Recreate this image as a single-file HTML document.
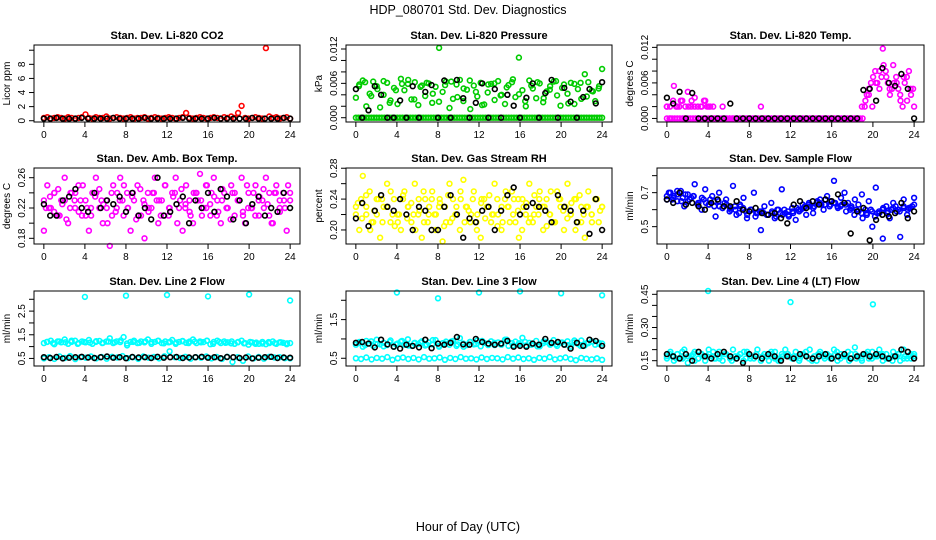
<!DOCTYPE html>
<html><head><meta charset="utf-8">
<style>
html,body{margin:0;padding:0;background:#fff;}
svg{display:block;font-family:"Liberation Sans",Arial,sans-serif;}
</style></head>
<body>
<svg id="chart" width="936" height="540" viewBox="0 0 936 540" xmlns="http://www.w3.org/2000/svg">
<rect width="936" height="540" fill="#fff"/>
<text x="468" y="14" font-size="12.5" text-anchor="middle">HDP_080701  Std. Dev. Diagnostics</text>
<text x="468" y="531" font-size="12.5" text-anchor="middle">Hour of Day (UTC)</text>
</svg>
<script>
// ---- data ----
const xTicks = [0,4,8,12,16,20,24];

// Panel 1: Li-820 CO2
const co2Color = [0.4,0.5,0.3,0.4,0.5,0.4,0.3,0.5,0.4,0.3, 0.4,0.5,0.9,0.4,0.3,0.5,0.4,0.4,0.6,0.3, 0.4,0.5,0.4,0.3,0.4,0.5,0.3,0.4,0.4,0.5, 0.3,0.4,0.5,0.4,0.3,0.4,0.5,0.4,0.3,0.4, 0.5,1.1,0.4,0.3,0.4,0.5,0.4,0.3,0.4,0.5, 0.4,0.3,0.5,0.4,0.6,0.4,1.1,2.1,0.4,0.3, 0.4,0.5,0.4,0.3,10.3,0.6,0.4,0.5,0.3,0.4, 0.5,0.3];
const co2Black = [0.3,0.3,0.4,0.3,0.3,0.3,0.4,0.3,0.3,0.3, 0.3,0.4,0.3,0.3,0.3,0.3,0.4,0.3,0.3,0.3, 0.3,0.3,0.4,0.3,0.3,0.3,0.3,0.4,0.3,0.3, 0.3,0.3,0.3,0.4,0.3,0.3,0.3,0.3,0.4,0.3];
const co2Ticks = [0,2,4,6,8,10];
const co2Labels = ["0","2","4","6","8",""];

// Panel 2: Li-820 Pressure (milli-kPa)
const presColor = [3.5,5.8,6.5,2.0,4.2,6.3,5.5,1.8,4.0,6.1,3.0,5.2,2.4,6.8,4.8,5.9,3.2,6.2,2.2,5.6, 3.8,6.0,2.6,5.4,12.2,4.5,6.3,1.7,3.3,5.8,6.6,2.9,4.9,1.5,5.6,3.7,6.1,2.3,4.4,5.9, 3.1,6.4,4.0,2.4,5.7,6.2,3.6,10.5,4.8,2.0,6.5,5.1,3.4,6.0,2.7,4.6,5.5,6.3,3.9,2.1, 5.8,4.2,6.1,2.4,5.0,3.3,7.6,6.2,4.7,2.9,5.1,8.5];
const presColorB = [5.5,6.2,3.8,5.0,6.4,2.6,4.8,5.9,6.6,3.2,5.4,6.1,4.2,2.8,5.7,6.3,3.6,5.1,6.5,4.5,2.2,5.8,6.0,3.9,5.3,6.7,4.1,2.9,5.6,6.2,3.4,4.9,6.4,5.2,2.5,5.9,6.1,3.7,4.6,5.5];
const presZero = [0,0,0,0,0,0,0,0,0,0,0,0,0,0,0,0,0,0,0,0,0,0,0,0,0,0,0,0,0,0,0,0,0,0,0,0,0,0,0,0,0,0,0,0,0,0,0,0,0,0,0,0,0,0,0,0,0,0,0,0,0,0,0,0,0,0,0,0,0,0,0,0,0,0,0,0,0,0,0,0,0,0,0,0,0,0,0,0,0,0,0,0,0,0,0,0];
const presBlack = [5.0,0,1.3,5.5,4.0,0,0,3.0,0,5.5,0,4.5,5.7,0,6.5,0,6.6,3.4,0,2.6,6.0,0,5.0,0,4.0,2.1,0,3.5,6.0,0,4.3,6.6,0,5.2,2.8,0,3.6,5.0,2.5,6.2];
const presTicks = [0,2,4,6,8,10,12];
const presLabels = ["0.000","","","0.006","","","0.012"];

// Panel 3: Li-820 Temp (milli-degC)
const tempColor = [2,0,5.5,2,3,0,4.5,2,3.5,0,2,3,2,0, 0,0,2,0,0,0,0,0,0,0, 0,0,0,2,0,0,0,0,0,0, 0,0,0,0,0,0,0,0,0,0, 0,0,0,0,0,0,0,0,0,0, 0,0,2, 3,4,2,6,8,11.8,7,5,9,6,4,7,3,5,2];
const tempEarly = [2,2,3,2,2,3,2,2,3,2,2,2,3,2,2,2];
const tempLate = [2,4,5,6,7,8,6,5,7,9,8,6,4,5,6,7,5,3,2,6,7,8,4,5];
const tempBlack = [3.5,2.5,4.5,0,4.3,0,0,0,0,0,2.5,0,0,0,0,0,0,0,0,0,0,0,0,0,0,0,0,0,0,0,0,4.8,5.0,3.0,8.5,6.0,5.5,7.5,5.0,0];
const tempTicks = [0,2,4,6,8,10,12];
const tempLabels = ["0.000","","","0.006","","","0.012"];

// Panel 4: Amb. Box Temp
const ambColor = [0.19,0.25,0.22,0.24,0.21,0.23,0.26,0.20,0.24,0.22,0.25,0.21,0.23,0.19,0.24,0.26,0.22,0.20,0.23,0.17, 0.25,0.22,0.26,0.21,0.24,0.19,0.23,0.25,0.21,0.18,0.24,0.22,0.26,0.20,0.23,0.25,0.21,0.24,0.26,0.22, 0.19,0.25,0.23,0.20,0.24,0.265,0.22,0.25,0.21,0.26,0.23,0.20,0.24,0.22,0.25,0.21,0.23,0.26,0.20,0.24, 0.22,0.25,0.21,0.23,0.26,0.24,0.20,0.25,0.22,0.24,0.19,0.23];
const ambColorB = [0.23,0.22,0.24,0.21,0.23,0.22,0.24,0.23,0.21,0.22,0.24,0.23,0.22,0.21,0.24,0.23,0.22,0.24,0.21,0.23,0.22,0.24,0.23,0.21,0.22,0.24,0.23,0.22,0.21,0.24,0.23,0.22,0.24,0.21,0.23,0.22,0.24,0.23,0.21,0.22,0.24,0.23,0.22,0.21,0.24,0.23,0.22,0.24];
const ambColorC = [0.22,0.235,0.215,0.245,0.225,0.205,0.24,0.23,0.215,0.25,0.22,0.21,0.235,0.245,0.225,0.2,0.24,0.215,0.23,0.25,0.22,0.235,0.205,0.245,0.225,0.215,0.24,0.23,0.21,0.25,0.22,0.235,0.2,0.245,0.225,0.215,0.24,0.23,0.21,0.25,0.225,0.235,0.215,0.245,0.22,0.205,0.24,0.23,0.215,0.25,0.22,0.21,0.235,0.245,0.225,0.2,0.24,0.215,0.23,0.25];
const ambBlack = [0.225,0.21,0.21,0.23,0.235,0.245,0.22,0.215,0.24,0.22,0.23,0.225,0.235,0.215,0.24,0.21,0.22,0.205,0.26,0.21,0.215,0.225,0.235,0.2,0.23,0.22,0.24,0.215,0.245,0.235,0.205,0.23,0.2,0.225,0.235,0.21,0.22,0.215,0.24,0.22];
const ambTicks = [0.18,0.20,0.22,0.24,0.26];
const ambLabels = ["0.18","","0.22","","0.26"];

// Panel 5: Gas Stream RH
const rhColor = [0.23,0.20,0.27,0.22,0.25,0.21,0.24,0.19,0.23,0.26,0.21,0.24,0.22,0.20,0.25,0.23,0.21,0.26,0.22,0.19, 0.24,0.22,0.25,0.20,0.23,0.185,0.21,0.26,0.24,0.22,0.20,0.265,0.23,0.21,0.25,0.22,0.19,0.24,0.23,0.21, 0.26,0.22,0.20,0.24,0.23,0.25,0.21,0.19,0.24,0.22,0.26,0.21,0.23,0.25,0.20,0.24,0.22,0.21,0.25,0.23, 0.20,0.26,0.22,0.24,0.21,0.23,0.19,0.25,0.22,0.24,0.21,0.23];
const rhColorB = [0.22,0.24,0.23,0.21,0.22,0.24,0.23,0.22,0.21,0.24,0.23,0.22,0.24,0.21,0.23,0.22,0.24,0.23,0.21,0.22,0.24,0.23,0.22,0.21,0.24,0.23,0.22,0.24,0.21,0.23,0.22,0.24,0.23,0.21,0.22,0.24,0.23,0.22,0.21,0.24,0.23,0.22,0.24,0.21,0.23,0.22,0.24,0.23];
const rhColorC = [0.235,0.215,0.245,0.2,0.225,0.24,0.21,0.23,0.25,0.205,0.22,0.245,0.215,0.235,0.2,0.225,0.25,0.21,0.24,0.22,0.235,0.205,0.245,0.215,0.23,0.25,0.21,0.225,0.24,0.2,0.235,0.215,0.245,0.22,0.205,0.23,0.25,0.21,0.24,0.225,0.2,0.235,0.215,0.245,0.22,0.23,0.205,0.25,0.21,0.24,0.225,0.215,0.235,0.2,0.245,0.22,0.23,0.21,0.24,0.225];
const rhBlack = [0.215,0.235,0.205,0.225,0.245,0.23,0.225,0.24,0.22,0.2,0.23,0.225,0.2,0.2,0.23,0.245,0.22,0.19,0.215,0.21,0.225,0.23,0.2,0.225,0.245,0.255,0.22,0.23,0.235,0.23,0.225,0.21,0.245,0.23,0.225,0.21,0.225,0.195,0.24,0.2];
const rhTicks = [0.20,0.22,0.24,0.26,0.28];
const rhLabels = ["0.20","","0.24","","0.28"];

// Panel 6: Sample Flow
const sfColor = [0.66,0.70,0.68,0.65,0.71,0.62,0.69,0.67,0.75,0.64,0.60,0.72, 0.63,0.68,0.56,0.70,0.61,0.66,0.59,0.74,0.57,0.63,0.67,0.55, 0.60,0.70,0.58,0.48,0.62,0.57,0.64,0.55,0.60,0.72,0.58,0.56,0.61,0.54,0.59,0.63,0.57,0.62, 0.58,0.64,0.66,0.60,0.68,0.63,0.77,0.62,0.67,0.70,0.64,0.62, 0.66,0.63,0.69,0.60,0.65,0.50,0.73,0.58,0.43,0.62,0.55,0.64,0.59,0.44,0.66,0.57,0.61,0.67];
const sfColorB = [0.68,0.66,0.69,0.67,0.65,0.68,0.64,0.66,0.63,0.65,0.62,0.64,0.61,0.60,0.62,0.59,0.60,0.58,0.59,0.57,0.58,0.60,0.57,0.59,0.58,0.60,0.61,0.63,0.62,0.64,0.63,0.65,0.64,0.62,0.63,0.61,0.60,0.58,0.57,0.59,0.58,0.60,0.59,0.61,0.60,0.62,0.61,0.63];
const sfColorC = [0.70,0.67,0.71,0.65,0.69,0.66,0.68,0.63,0.67,0.64,0.66,0.62,0.65,0.61,0.63,0.60,0.62,0.58,0.61,0.57,0.60,0.56,0.59,0.58,0.57,0.59,0.56,0.58,0.60,0.57,0.59,0.61,0.60,0.62,0.64,0.61,0.65,0.63,0.66,0.62,0.64,0.61,0.63,0.59,0.60,0.57,0.59,0.55,0.58,0.60,0.56,0.59,0.61,0.58,0.60,0.62,0.59,0.61,0.60,0.62];
const sfBlack = [0.66,0.64,0.70,0.63,0.64,0.62,0.60,0.64,0.66,0.62,0.62,0.65,0.60,0.59,0.61,0.58,0.57,0.58,0.55,0.52,0.63,0.65,0.61,0.65,0.63,0.66,0.65,0.69,0.64,0.46,0.59,0.61,0.42,0.54,0.57,0.56,0.58,0.64,0.55,0.59];
const sfTicks = [0.5,0.6,0.7,0.8];
const sfLabels = ["0.5","","0.7",""];

// Panel 7: Line 2 Flow
const l2Band = [1.15,1.20,1.25,1.10,1.22,1.18,1.30,1.12,1.20,1.25,1.15,1.22,1.18,1.28,1.12,1.20,1.24,1.16,1.21,1.35, 1.15,1.22,1.19,1.40,1.05,1.20,1.25,1.15,1.22,1.18,1.30,1.12,1.20,1.25,1.15,1.22,1.18,1.28,1.12,1.20, 1.24,1.16,1.21,1.30,1.15,1.22,1.19,1.25,1.10,1.20,1.25,1.15,1.22,1.18,1.14,1.12,1.20,1.25,1.15,1.08, 1.18,1.12,1.12,1.20,1.10,1.15,1.22,1.12,1.18,1.16,1.10,1.15];
const l2BandB = [1.20,1.15,1.22,1.18,1.25,1.12,1.20,1.17,1.23,1.15,1.21,1.18,1.26,1.13,1.20,1.16,1.22,1.19,1.24,1.14,1.20,1.17,1.23,1.15,1.21,1.18,1.25,1.12,1.20,1.16,1.22,1.18,1.14,1.20,1.17,1.13,1.19,1.15,1.18,1.14];
const l2Low = [0.50,0.55,0.48,0.58,0.52,0.60,0.47,0.55,0.53,0.58,0.50,0.56,0.49,0.57,0.54,0.60,0.51,0.55,0.48,0.58,0.53,0.56,0.50,0.59,0.80,0.55,0.52,0.57,0.49,0.55,0.53,0.58,0.50,0.56,0.48,0.57,0.35,0.55,0.40,0.58,0.50,0.56,0.49,0.57,0.54,0.55,0.51,0.50];
const l2OutHours = [4,8,12,16,20,24];
const l2OutValues = [3.1,3.15,3.18,3.12,3.2,2.95];
const l2Black = [0.55,0.52,0.56,0.50,0.53,0.55,0.57,0.54,0.52,0.55,0.58,0.53,0.55,0.51,0.56,0.54,0.55,0.52,0.57,0.53,0.55,0.56,0.52,0.54,0.55,0.57,0.53,0.55,0.51,0.56,0.55,0.52,0.54,0.50,0.53,0.55,0.57,0.52,0.54,0.53];
const l2Ticks = [0.5,1.0,1.5,2.0,2.5,3.0];
const l2Labels = ["0.5","","1.5","","2.5",""];

// Panel 8: Line 3 Flow
const l3Band = [0.85,0.92,0.80,0.95,0.88,0.82,0.98,0.86,0.90,0.84,0.96,0.80,0.88,0.93,0.85,0.99,0.82,0.90,0.87,0.94, 0.83,0.91,0.86,0.97,0.80,0.89,0.93,0.85,0.95,0.82,1.02,0.88,0.84,0.92,0.86,0.96,0.81,0.90,0.87,0.94, 0.84,0.91,0.85,0.98,0.82,0.89,0.93,0.86,1.03,0.83,0.90,0.87,0.95,0.81,0.89,0.92,0.85,0.97,0.82,0.90, 0.86,0.94,0.80,0.91,0.87,0.96,0.83,0.89,0.93,0.85,0.90,0.88];
const l3BandB = [0.90,0.84,0.94,0.87,0.81,0.92,0.86,0.95,0.83,0.89,0.91,0.85,0.97,0.82,0.88,0.93,0.86,0.80,0.92,0.87,0.95,0.84,0.90,0.86,0.98,0.83,0.89,0.92,0.85,0.81,0.94,0.88,0.86,0.91,0.84,0.96,0.82,0.89,0.93,0.87];
const l3Low = [0.50,0.48,0.52,0.47,0.51,0.49,0.53,0.46,0.50,0.52,0.48,0.51,0.47,0.53,0.49,0.50,0.52,0.46,0.51,0.48,0.53,0.49,0.50,0.47,0.52,0.48,0.51,0.50,0.47,0.53,0.49,0.52,0.48,0.50,0.46,0.51,0.49,0.53,0.47,0.50,0.52,0.48,0.45,0.51,0.49,0.47,0.50,0.46];
const l3OutHours = [4,8,12,16,20,24];
const l3OutValues = [2.2,2.05,2.2,2.23,2.18,2.13];
const l3Black = [0.90,0.92,0.88,0.78,0.98,0.86,0.80,0.75,0.85,0.82,0.78,0.98,0.76,0.88,0.85,0.90,1.05,0.86,0.85,1.0,0.92,0.88,0.85,0.88,0.95,0.80,0.82,0.80,0.88,0.85,1.0,0.90,0.92,0.85,0.75,0.90,0.82,0.98,0.95,0.82];
const l3Ticks = [0.5,1.0,1.5,2.0];
const l3Labels = ["0.5","","1.5",""];

// Panel 9: Line 4 (LT) Flow
const l4Color = [0.17,0.19,0.15,0.18,0.16,0.20,0.14,0.17,0.19,0.16,0.18,0.15,0.20,0.17,0.16,0.19,0.15,0.18,0.17,0.20, 0.16,0.18,0.15,0.19,0.17,0.16,0.20,0.15,0.18,0.17,0.19,0.16,0.15,0.18,0.20,0.17,0.16,0.19,0.15,0.18, 0.17,0.20,0.16,0.15,0.19,0.17,0.18,0.16,0.20,0.15,0.18,0.17,0.19,0.16,0.21,0.17,0.15,0.18,0.16,0.19, 0.17,0.20,0.15,0.18,0.16,0.19,0.17,0.15,0.20,0.16,0.18,0.17];
const l4ColorB = [0.16,0.17,0.18,0.16,0.17,0.18,0.16,0.17,0.18,0.16,0.17,0.18,0.16,0.17,0.18,0.16,0.17,0.18,0.16,0.17,0.18,0.16,0.17,0.18,0.16,0.17,0.18,0.16,0.17,0.18,0.16,0.17,0.18,0.16,0.17,0.18,0.16,0.17,0.18,0.16,0.17,0.18,0.16,0.17,0.18,0.16,0.17,0.18];
const l4ColorC = [0.18,0.16,0.19,0.17,0.15,0.18,0.17,0.19,0.16,0.18,0.15,0.17,0.19,0.16,0.18,0.17,0.15,0.19,0.16,0.18,0.17,0.16,0.19,0.15,0.18,0.17,0.16,0.19,0.17,0.15,0.18,0.16,0.19,0.17,0.18,0.16,0.15,0.18,0.17,0.16];
const l4OutHours = [4,12,20];
const l4OutValues = [0.465,0.415,0.405];
const l4Black = [0.18,0.17,0.16,0.18,0.15,0.19,0.17,0.16,0.18,0.19,0.17,0.16,0.14,0.18,0.17,0.16,0.18,0.17,0.15,0.17,0.16,0.18,0.17,0.16,0.17,0.18,0.16,0.17,0.18,0.16,0.17,0.18,0.17,0.18,0.17,0.16,0.17,0.20,0.19,0.16];
const l4Ticks = [0.15,0.20,0.25,0.30,0.35,0.40,0.45];
const l4Labels = ["0.15","","","0.30","","","0.45"];

// ---- drawing ----
const svg = document.getElementById('chart');
const NS = 'http://www.w3.org/2000/svg';
function mk(tag, attrs){ const e=document.createElementNS(NS,tag); for(const k in attrs) e.setAttribute(k,attrs[k]); return e; }

function series(vals, color, xs, x0, x1){
  return {vals:vals, color:color, xs:xs, x0:(x0===undefined?0:x0), x1:(x1===undefined?24:x1)};
}

function drawPanel(p){
  const g = mk('g',{});
  
  
  svg.appendChild(g);
  const L=p.box[0], R=p.box[1], T=p.box[2], B=p.box[3];
  const xmin=-0.96, xmax=24.96;
  const X = h => L + (h - xmin)/(xmax - xmin)*(R-L);
  const Y = v => B - (v - p.ylim[0])/(p.ylim[1]-p.ylim[0])*(B-T);
  const t = mk('text',{x:(L+R)/2, y:T-6, 'font-size':11, 'font-weight':'bold', 'text-anchor':'middle'});
  t.textContent = p.title;
  
  
  g.appendChild(t);
  const yt = mk('text',{x:0,y:0,'font-size':10,'text-anchor':'middle',transform:`translate(${L-24},${(T+B)/2}) rotate(-90)`});
  yt.textContent = p.ylab;
  
  
  g.appendChild(yt);
  const pts = mk('g',{fill:'none','stroke-width':1.6});
  
  
  g.appendChild(pts);
  p.series.forEach(s=>{
    s.vals.forEach((v,i)=>{
      const h = s.xs ? s.xs[i] : s.x0 + i*(s.x1-s.x0)/(s.vals.length-1);
      const c = mk('circle',{cx:X(h).toFixed(1), cy:Y(v).toFixed(1), r:2.4, stroke:s.color});
      
      
      pts.appendChild(c);
    });
  });
  const box = mk('rect',{x:L,y:T,width:R-L,height:B-T,fill:'none',stroke:'#000','stroke-width':1});
  
  
  g.appendChild(box);
  const xa = mk('g',{stroke:'#000','stroke-width':1});
  
  
  g.appendChild(xa);
  xa.appendChild(mk('line',{x1:X(xTicks[0]),x2:X(xTicks[xTicks.length-1]),y1:B,y2:B}));
  xTicks.forEach(h=>{
    xa.appendChild(mk('line',{x1:X(h),x2:X(h),y1:B,y2:B+5}));
    const lt = mk('text',{x:X(h),y:B+16,'font-size':10,'text-anchor':'middle',stroke:'none',fill:'#000'});
    lt.textContent = String(h);
    
    
    xa.appendChild(lt);
  });
  const ya = mk('g',{stroke:'#000','stroke-width':1});
  
  
  g.appendChild(ya);
  ya.appendChild(mk('line',{x1:L,x2:L,y1:Y(p.yticks[0]),y2:Y(p.yticks[p.yticks.length-1])}));
  p.yticks.forEach((v,i)=>{
    ya.appendChild(mk('line',{x1:L-5,x2:L,y1:Y(v),y2:Y(v)}));
    if(p.ylabels[i]){
      const lt = mk('text',{x:0,y:0,'font-size':10,'text-anchor':'middle',stroke:'none',fill:'#000',transform:`translate(${L-9},${Y(v)}) rotate(-90)`});
      lt.textContent = p.ylabels[i];
      
      
      ya.appendChild(lt);
    }
  });
}

const C1=[34,300], C2=[346,612], C3=[657,924];
const R1=[45,122], R2=[168,244], R3=[291,366];
const K='#000';
drawPanel({name:'panel-co2',box:[...C1,...R1],ylim:[-0.18,10.74],title:'Stan. Dev. Li-820 CO2',ylab:'Licor ppm',yticks:co2Ticks,ylabels:co2Labels,
  series:[series(co2Color,'#ff0000'),series(co2Black,K)]});
drawPanel({name:'panel-pressure',box:[...C2,...R1],ylim:[-0.75,12.7],title:'Stan. Dev. Li-820 Pressure',ylab:'kPa',yticks:presTicks,ylabels:presLabels,
  series:[series(presZero,'#00cc00'),series(presColor,'#00cc00'),series(presColorB,'#00cc00',undefined,0.3,23.7),series(presBlack,K)]});
drawPanel({name:'panel-li820-temp',box:[...C3,...R1],ylim:[-0.6,12.4],title:'Stan. Dev. Li-820 Temp.',ylab:'degrees C',yticks:tempTicks,ylabels:tempLabels,
  series:[series(presZero.slice(0,76),'#ff00ff',undefined,0,19),series(tempColor,'#ff00ff'),series(tempEarly,'#ff00ff',undefined,0,4.5),series(tempLate,'#ff00ff',undefined,19.2,23.9),series(tempBlack,K)]});
drawPanel({name:'panel-amb-box-temp',box:[...C1,...R2],ylim:[0.1725,0.2728],title:'Stan. Dev. Amb. Box Temp.',ylab:'degrees C',yticks:ambTicks,ylabels:ambLabels,
  series:[series(ambColor,'#ff00ff'),series(ambColorB,'#ff00ff'),series(ambColorC,'#ff00ff',undefined,0.2,23.8),series(ambBlack,K)]});
drawPanel({name:'panel-gas-stream-rh',box:[...C2,...R2],ylim:[0.1818,0.2803],title:'Stan. Dev. Gas Stream RH',ylab:'percent',yticks:rhTicks,ylabels:rhLabels,
  series:[series(rhColor,'#ffff00'),series(rhColorB,'#ffff00'),series(rhColorC,'#ffff00',undefined,0.2,23.8),series(rhBlack,K)]});
drawPanel({name:'panel-sample-flow',box:[...C3,...R2],ylim:[0.398,0.845],title:'Stan. Dev. Sample Flow',ylab:'ml/min',yticks:sfTicks,ylabels:sfLabels,
  series:[series(sfColor,'#0000ff'),series(sfColorB,'#0000ff'),series(sfColorC,'#0000ff',undefined,0.2,23.8),series(sfBlack,K)]});
drawPanel({name:'panel-line2-flow',box:[...C1,...R3],ylim:[0.18,3.35],title:'Stan. Dev. Line 2 Flow',ylab:'ml/min',yticks:l2Ticks,ylabels:l2Labels,
  series:[series(l2Band,'#00ffff'),series(l2BandB,'#00ffff',undefined,0.3,23.7),series(l2Low,'#00ffff'),series(l2OutValues,'#00ffff',l2OutHours),series(l2Black,K)]});
drawPanel({name:'panel-line3-flow',box:[...C2,...R3],ylim:[0.30,2.24],title:'Stan. Dev. Line 3 Flow',ylab:'ml/min',yticks:l3Ticks,ylabels:l3Labels,
  series:[series(l3Band,'#00ffff'),series(l3BandB,'#00ffff',undefined,0.3,23.7),series(l3Low,'#00ffff'),series(l3OutValues,'#00ffff',l3OutHours),series(l3Black,K)]});
drawPanel({name:'panel-line4-flow',box:[...C3,...R3],ylim:[0.126,0.465],title:'Stan. Dev. Line 4 (LT) Flow',ylab:'ml/min',yticks:l4Ticks,ylabels:l4Labels,
  series:[series(l4Color,'#00ffff'),series(l4ColorB,'#00ffff'),series(l4ColorC,'#00ffff',undefined,0.3,23.7),series(l4OutValues,'#00ffff',l4OutHours),series(l4Black,K)]});
</script>
</body></html>
